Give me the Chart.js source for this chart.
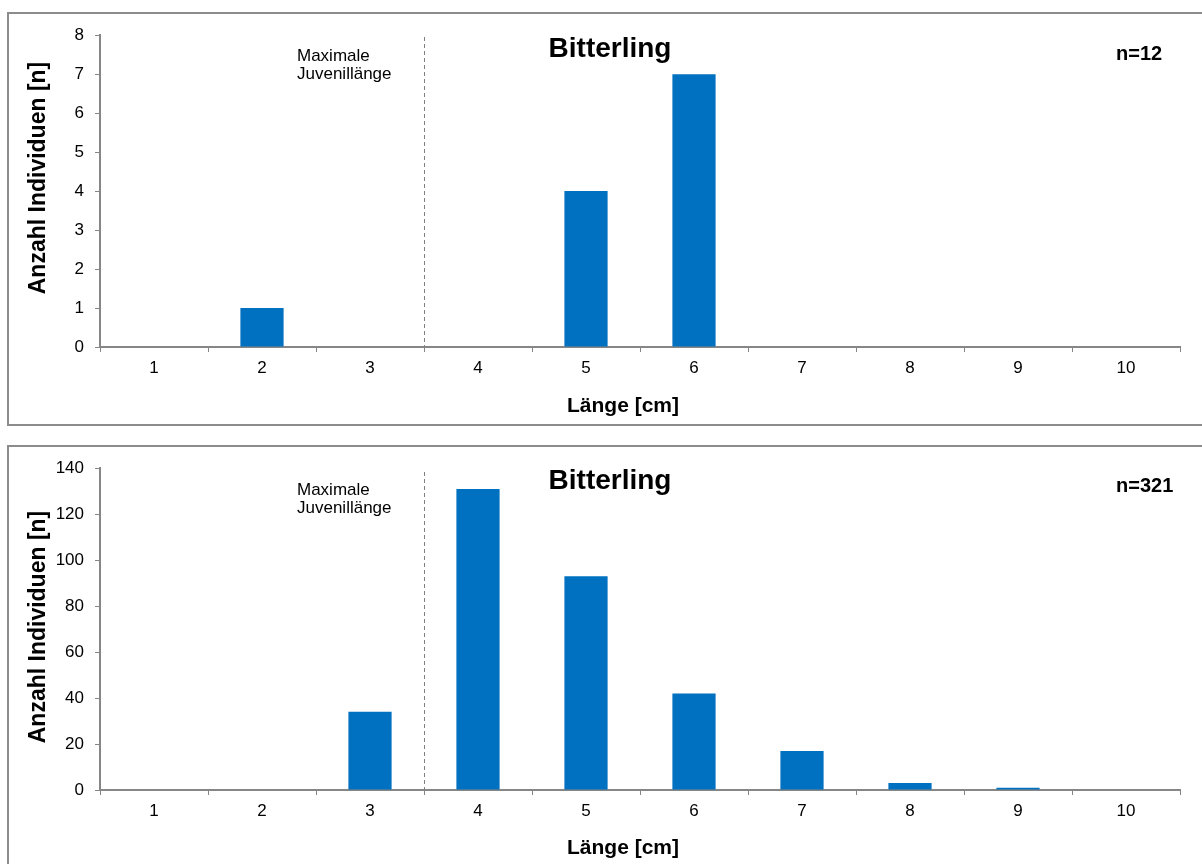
<!DOCTYPE html>
<html>
<head>
<meta charset="utf-8">
<script src="https://cdn.jsdelivr.net/npm/chart.js@4.4.1/dist/chart.umd.min.js"></script>
<style>
  body { margin: 0; background: #fff; width: 1202px; height: 864px; overflow: hidden; position: relative; }
  .box { position: absolute; left: 7px; border: 2px solid #8c8c8c; border-right: none; }
  #box1 { top: 12px; width: 1193px; height: 410px; }
  #box2 { top: 445px; width: 1193px; height: 430px; border-bottom: none; }
  canvas { display: block; }
</style>
</head>
<body>
<div class="box" id="box1"><canvas id="chart1" width="1193" height="410"></canvas></div>
<div class="box" id="box2"><canvas id="chart2" width="1193" height="417"></canvas></div>
<script>
// Länge [cm] classes
const lengthLabels = ['1', '2', '3', '4', '5', '6', '7', '8', '9', '10'];

// counts per length class
const countsUpper = [0, 1, 0, 0, 4, 7, 0, 0, 0, 0];
const countsLower = [0, 0, 34, 131, 93, 42, 17, 3, 1, 0];

// y axis ranges
const yUpper = { max: 8, step: 1 };
const yLower = { max: 140, step: 20 };

const speciesName = 'Bitterling';
const sampleSizes = ['n=12', 'n=321'];
const juvenileNote = ['Maximale', 'Juvenillänge'];
const juvenileBoundary = 2.5; // between class 3 and 4
const xTitle = 'Länge [cm]';
const yTitle = 'Anzahl Individuen [n]';

const FONT = "'Liberation Sans', Arial, sans-serif";
const AXIS_GREY = '#868686';
const BAR_BLUE = '#0070C0';

const annotationsPlugin = {
    id: 'annotations',
    afterDatasetsDraw(chart, _args, opts) {
        const { ctx, chartArea, scales: { x } } = chart;
        const lx = Math.round(x.getPixelForValue(juvenileBoundary)) + 0.5;

        ctx.save();
        // dashed boundary line
        ctx.strokeStyle = '#7f7f7f';
        ctx.lineWidth = 1;
        ctx.setLineDash([4, 3]);
        ctx.beginPath();
        ctx.moveTo(lx, opts.lineTop);
        ctx.lineTo(lx, chartArea.bottom);
        ctx.stroke();
        ctx.setLineDash([]);

        ctx.fillStyle = '#000';
        ctx.textBaseline = 'middle';

        // note
        ctx.font = `17px ${FONT}`;
        ctx.textAlign = 'left';
        juvenileNote.forEach((line, i) => ctx.fillText(line, 288, opts.noteTop + i * 18));

        // species title
        ctx.font = `bold 28px ${FONT}`;
        ctx.textAlign = 'center';
        ctx.textBaseline = 'alphabetic';
        ctx.fillText(speciesName, 601, opts.titleBase);

        // sample size
        ctx.font = `bold 20px ${FONT}`;
        ctx.textAlign = 'left';
        ctx.textBaseline = 'middle';
        ctx.fillText(opts.n, 1107, opts.nY);

        // axis titles
        ctx.font = `bold 21px ${FONT}`;
        ctx.textAlign = 'center';
        ctx.fillText(xTitle, 614, opts.xTitleY);

        ctx.font = `bold 23px ${FONT}`;
        ctx.translate(30, opts.yTitleY);
        ctx.rotate(-Math.PI / 2);
        ctx.fillText(yTitle, 0, 0);
        ctx.restore();
    }
};

function renderChart(canvasElement, counts, yRange, layout) {
    return new Chart(canvasElement, {
        type: 'bar',
        data: {
            labels: lengthLabels,
            datasets: [{
                data: counts,
                backgroundColor: BAR_BLUE,
                borderWidth: 0,
                barPercentage: 0.4,
                categoryPercentage: 1.0,
            }],
        },
        options: {
            responsive: false,
            animation: false,
            layout: { padding: { top: layout.top, right: 22, bottom: 0, left: 0 } },
            scales: {
                x: {
                    offset: true,
                    grid: {
                        offset: true,
                        drawOnChartArea: false,
                        drawTicks: true,
                        tickLength: 5,
                        color: AXIS_GREY,
                    },
                    border: { display: true, color: AXIS_GREY, width: 2 },
                    ticks: { color: '#000', font: { family: FONT, size: 17 }, padding: 6, maxRotation: 0 },
                    afterFit: (scale) => { scale.height = layout.xHeight; },
                },
                y: {
                    min: 0,
                    max: yRange.max,
                    grid: {
                        drawOnChartArea: false,
                        drawTicks: true,
                        tickLength: 5,
                        color: AXIS_GREY,
                    },
                    border: { display: true, color: AXIS_GREY, width: 2 },
                    ticks: { stepSize: yRange.step, color: '#000', font: { family: FONT, size: 17 }, padding: 11 },
                    afterFit: (scale) => { scale.width = 91; },
                },
            },
            plugins: {
                legend: { display: false },
                tooltip: { enabled: false },
                annotations: layout.annotations,
            },
        },
        plugins: [annotationsPlugin],
    });
}

renderChart(document.getElementById('chart1'), countsUpper, yUpper, {
    top: 18,
    xHeight: 77,
    annotations: { lineTop: 23, noteTop: 42, titleBase: 43, n: sampleSizes[0], nY: 40, xTitleY: 392, yTitleY: 164 },
});

renderChart(document.getElementById('chart2'), countsLower, yLower, {
    top: 16,
    xHeight: 74,
    annotations: { lineTop: 25, noteTop: 43, titleBase: 42, n: sampleSizes[1], nY: 39, xTitleY: 401, yTitleY: 180 },
});
</script>
</body>
</html>
